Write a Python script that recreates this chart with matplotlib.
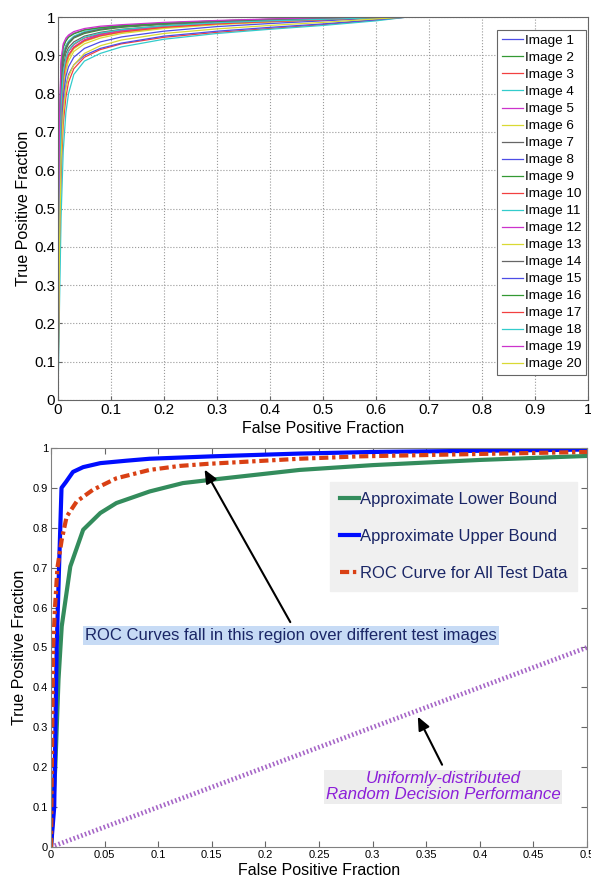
import matplotlib.pyplot as plt
import numpy as np

plt.rcParams['font.family'] = ['Liberation Sans', 'DejaVu Sans']

# ---- top panel: ROC curves for 20 test images ----
fpr_grid = [0, 0.001, 0.003, 0.006, 0.01, 0.015, 0.02, 0.03, 0.05, 0.08,
            0.12, 0.2, 0.3, 0.4, 0.5, 0.6, 0.66, 1.0]

tpr_images = [
    [0, 0.20, 0.50, 0.72, 0.82, 0.870, 0.900, 0.920, 0.940, 0.955, 0.965, 0.975, 0.983, 0.989, 0.994, 0.998, 1, 1],
    [0, 0.30, 0.65, 0.84, 0.90, 0.925, 0.935, 0.948, 0.960, 0.968, 0.975, 0.982, 0.988, 0.992, 0.995, 0.999, 1, 1],
    [0, 0.12, 0.35, 0.58, 0.72, 0.790, 0.830, 0.865, 0.895, 0.915, 0.930, 0.947, 0.960, 0.970, 0.980, 0.992, 1, 1],
    [0, 0.08, 0.25, 0.48, 0.65, 0.750, 0.800, 0.850, 0.885, 0.905, 0.922, 0.942, 0.957, 0.968, 0.978, 0.990, 1, 1],
    [0, 0.35, 0.72, 0.88, 0.925, 0.940, 0.950, 0.958, 0.967, 0.973, 0.978, 0.984, 0.990, 0.994, 0.997, 1.000, 1, 1],
    [0, 0.15, 0.45, 0.70, 0.80, 0.860, 0.885, 0.910, 0.930, 0.945, 0.957, 0.970, 0.980, 0.987, 0.993, 0.998, 1, 1],
    [0, 0.25, 0.60, 0.80, 0.87, 0.905, 0.920, 0.935, 0.950, 0.960, 0.968, 0.977, 0.985, 0.990, 0.994, 0.998, 1, 1],
    [0, 0.15, 0.42, 0.65, 0.76, 0.820, 0.850, 0.875, 0.900, 0.918, 0.932, 0.950, 0.963, 0.973, 0.982, 0.993, 1, 1],
    [0, 0.28, 0.62, 0.82, 0.89, 0.915, 0.930, 0.945, 0.957, 0.966, 0.973, 0.981, 0.987, 0.991, 0.995, 0.999, 1, 1],
    [0, 0.22, 0.55, 0.76, 0.85, 0.890, 0.910, 0.928, 0.945, 0.956, 0.965, 0.975, 0.984, 0.990, 0.994, 0.998, 1, 1],
    [0, 0.30, 0.66, 0.85, 0.905, 0.925, 0.937, 0.950, 0.962, 0.970, 0.976, 0.983, 0.989, 0.993, 0.996, 0.999, 1, 1],
    [0, 0.20, 0.50, 0.73, 0.83, 0.875, 0.900, 0.922, 0.940, 0.953, 0.963, 0.974, 0.983, 0.989, 0.993, 0.998, 1, 1],
    [0, 0.18, 0.48, 0.72, 0.82, 0.870, 0.895, 0.917, 0.936, 0.950, 0.960, 0.972, 0.981, 0.988, 0.993, 0.998, 1, 1],
    [0, 0.30, 0.64, 0.83, 0.895, 0.920, 0.933, 0.947, 0.959, 0.968, 0.975, 0.982, 0.988, 0.992, 0.995, 0.999, 1, 1],
    [0, 0.17, 0.45, 0.68, 0.79, 0.845, 0.870, 0.895, 0.918, 0.935, 0.948, 0.963, 0.975, 0.983, 0.990, 0.997, 1, 1],
    [0, 0.33, 0.70, 0.87, 0.92, 0.937, 0.947, 0.956, 0.966, 0.972, 0.977, 0.984, 0.990, 0.994, 0.997, 1.000, 1, 1],
    [0, 0.20, 0.52, 0.74, 0.84, 0.880, 0.900, 0.920, 0.938, 0.951, 0.961, 0.973, 0.982, 0.988, 0.993, 0.998, 1, 1],
    [0, 0.22, 0.55, 0.77, 0.855, 0.893, 0.912, 0.930, 0.947, 0.958, 0.967, 0.977, 0.985, 0.990, 0.994, 0.998, 1, 1],
    [0, 0.36, 0.74, 0.89, 0.93, 0.945, 0.953, 0.962, 0.970, 0.976, 0.980, 0.986, 0.991, 0.995, 0.998, 1.000, 1, 1],
    [0, 0.14, 0.40, 0.63, 0.75, 0.815, 0.845, 0.875, 0.905, 0.925, 0.940, 0.957, 0.969, 0.978, 0.986, 0.995, 1, 1],
]
image_names = ['Image %d' % (i + 1) for i in range(len(tpr_images))]

# old matlab colour order
matlab_colors = [(0.3, 0.3, 0.9), (0.2, 0.6, 0.2), (0.95, 0.25, 0.25), (0.2, 0.8, 0.8),
                 (0.8, 0.2, 0.8), (0.85, 0.85, 0.2), (0.4, 0.4, 0.4)]

# ---- bottom panel: bounds ----
low_fpr = [0, 0.004, 0.007, 0.010, 0.018, 0.030, 0.046, 0.061, 0.092, 0.123, 0.155, 0.232, 0.30, 0.40, 0.50]
low_tpr = [0, 0.20, 0.42, 0.553, 0.703, 0.795, 0.837, 0.862, 0.891, 0.912, 0.922, 0.945, 0.957, 0.970, 0.980]

up_fpr = [0, 0.003, 0.0053, 0.0075, 0.0098, 0.014, 0.0205, 0.03, 0.046, 0.07, 0.092, 0.15, 0.232, 0.30, 0.50]
up_tpr = [0, 0.10, 0.50, 0.70, 0.90, 0.915, 0.940, 0.952, 0.962, 0.968, 0.973, 0.979, 0.986, 0.990, 0.996]

all_fpr = [0, 0.001, 0.002, 0.0037, 0.006, 0.010, 0.0146, 0.024, 0.039, 0.061, 0.092, 0.12, 0.145, 0.232, 0.288, 0.40, 0.50]
all_tpr = [0, 0.25, 0.50, 0.60, 0.70, 0.77, 0.828, 0.866, 0.895, 0.924, 0.945, 0.955, 0.960, 0.973, 0.979, 0.985, 0.990]

rand_fpr = [0, 0.5]
rand_tpr = [0, 0.5]

fig = plt.figure(figsize=(5.91, 8.77), dpi=100)
ax1 = fig.add_axes([0.098, 0.5439, 0.897, 0.4367])
ax2 = fig.add_axes([0.0863, 0.0342, 0.9069, 0.455])

for k, tpr in enumerate(tpr_images):
    ax1.plot(fpr_grid, tpr, color=matlab_colors[k % 7], lw=0.9, label=image_names[k])

ax1.set_xlim(0, 1)
ax1.set_ylim(0, 1)
ax1.set_xticks(np.arange(0, 1.01, 0.1))
ax1.set_yticks(np.arange(0, 1.01, 0.1))
ax1.set_xticklabels(['0', '0.1', '0.2', '0.3', '0.4', '0.5', '0.6', '0.7', '0.8', '0.9', '1'])
ax1.set_yticklabels(['0', '0.1', '0.2', '0.3', '0.4', '0.5', '0.6', '0.7', '0.8', '0.9', '1'])
ax1.grid(True, ls=':', color='0.6', lw=0.8)
ax1.tick_params(direction='in', length=3, labelsize=11, color='0.4', pad=2)
for s in ax1.spines.values():
    s.set_color('0.4')
ax1.set_xlabel('False Positive Fraction', fontsize=11.5, labelpad=3)
ax1.set_ylabel('True Positive Fraction', fontsize=11.5, labelpad=2)
leg1 = ax1.legend(loc='upper right', bbox_to_anchor=(0.996, 0.966), fontsize=9.7,
                  handlelength=1.6, handletextpad=0.1, labelspacing=0.34,
                  borderpad=0.35, borderaxespad=0, fancybox=False, framealpha=1)
leg1.get_frame().set_edgecolor('0.4')
leg1.get_frame().set_linewidth(0.8)

# bottom panel
ax2.plot(rand_fpr, rand_tpr, color=(0.65, 0.4, 0.78), lw=3.4, dashes=(0.35, 0.5))
ax2.plot(low_fpr, low_tpr, color=(0.2, 0.55, 0.36), lw=3, label='Approximate Lower Bound')
ax2.plot(up_fpr, up_tpr, color=(0.0, 0.05, 1.0), lw=3, label='Approximate Upper Bound')
ax2.plot(all_fpr, all_tpr, color=(0.85, 0.25, 0.08), lw=3, dashes=(2.2, 0.9, 0.8, 0.9),
         label='ROC Curve for All Test Data')

ax2.set_xlim(0, 0.5)
ax2.set_ylim(0, 1)
ax2.set_xticks(np.arange(0, 0.501, 0.05))
ax2.set_xticklabels(['0', '0.05', '0.1', '0.15', '0.2', '0.25', '0.3', '0.35', '0.4', '0.45', '0.5'])
ax2.set_yticks(np.arange(0, 1.01, 0.1))
ax2.set_yticklabels(['0', '0.1', '0.2', '0.3', '0.4', '0.5', '0.6', '0.7', '0.8', '0.9', '1'])
ax2.tick_params(direction='in', length=4, labelsize=8, color='0.4', top=True, right=True, pad=2)
for s in ax2.spines.values():
    s.set_color('0.5')
ax2.set_xlabel('False Positive Fraction', fontsize=11.5, labelpad=2)
ax2.set_ylabel('True Positive Fraction', fontsize=11.5, labelpad=4)

leg2 = ax2.legend(loc='upper left', bbox_to_anchor=(0.5205, 0.915), fontsize=12,
                  handlelength=1.15, handletextpad=0.05, labelspacing=1.32,
                  borderpad=0.6, borderaxespad=0, fancybox=False, framealpha=1)
leg2.get_frame().set_facecolor((0.94, 0.94, 0.94))
leg2.get_frame().set_edgecolor((0.94, 0.94, 0.94))
for t in leg2.get_texts():
    t.set_color((0.1, 0.15, 0.4))

ax2.text(0.224, 0.53, 'ROC Curves fall in this region over different test images',
         ha='center', va='center', fontsize=12, color=(0.1, 0.15, 0.4),
         bbox=dict(boxstyle='square,pad=0.12', fc=(0.78, 0.86, 0.96), ec='none'))
ax2.text(0.3657, 0.1515, 'Uniformly-distributed\nRandom Decision Performance',
         ha='center', va='center', fontsize=12.2, style='italic', color=(0.55, 0.12, 0.85),
         linespacing=1.1,
         bbox=dict(boxstyle='square,pad=0.08', fc=(0.93, 0.93, 0.93), ec='none'))

ax2.annotate('', xy=(0.142, 0.952), xytext=(0.2245, 0.5575),
             arrowprops=dict(arrowstyle='-|>,head_length=0.8,head_width=0.35', color='black', lw=1.5))
ax2.annotate('', xy=(0.341, 0.333), xytext=(0.366, 0.2),
             arrowprops=dict(arrowstyle='-|>,head_length=0.8,head_width=0.35', color='black', lw=1.5))

fig.savefig('out.png', dpi=100)
